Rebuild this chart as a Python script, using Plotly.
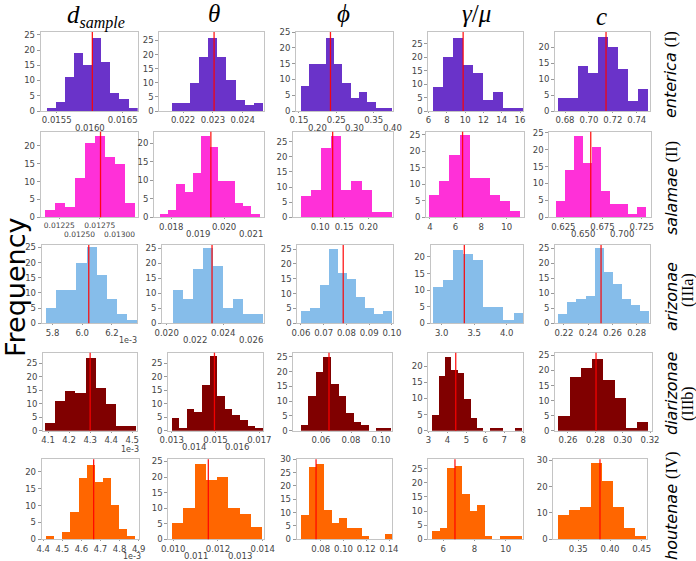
import plotly.graph_objects as go

W, H = 696, 561

# ---------------- data ----------------
# columns: d_sample, theta, phi, gamma/mu, c   (each histogram = 100 samples)
# d_sample of arizonae / diarizonae / houtenae is given in units of 1e-3
col_titles = ["<i>d</i><sub><span style=\"font-size:16px\"><i>sample</i></span></sub>",
              "<i>θ</i>", "<i>ϕ</i>", "<i>γ</i>/<i>μ</i>", "<i>c</i>"]
row_names = ["enterica", "salamae", "arizonae", "diarizonae", "houtenae"]
row_types = ["(I)", "(II)", "(IIIa)", "(IIIb)", "(IV)"]

enterica_lo = [0.015344, 0.02163, 0.1545, 6.47, 0.6744]
enterica_hi = [0.016722, 0.02469, 0.3995, 16.36, 0.7497]
enterica_mark = [0.01604, 0.02304, 0.2343, 9.78, 0.7143]
enterica_d = [1, 3, 11, 19, 15, 24, 16, 6, 4, 1]
enterica_theta = [3, 3, 10, 19, 26, 19, 11, 4, 2, 3]
enterica_phi = [8, 15, 15, 23, 15, 9, 4, 6, 3, 1, 1]
enterica_gm = [9, 20, 27, 17, 14, 4, 7, 1, 1]
enterica_c = [4, 4, 14, 12, 23, 20, 13, 3, 7]
enterica_xticks = [["0.0155", "0.0160", "0.0165"],
                   ["0.022", "0.023", "0.024"],
                   ["0.15", "0.20", "0.25", "0.30", "0.35", "0.40"],
                   ["6", "8", "10", "12", "14", "16"],
                   ["0.68", "0.70", "0.72", "0.74"]]

salamae_lo = [0.012073, 0.01756, 0.0598, 3.945, 0.6157]
salamae_hi = [0.013185, 0.02135, 0.249, 11.04, 0.7314]
salamae_mark = [0.01276, 0.01950, 0.126, 6.55, 0.660]
salamae_d = [2, 4, 3, 11, 21, 23, 17, 15, 4]
salamae_theta = [1, 2, 9, 7, 12, 22, 19, 10, 10, 4, 3, 1]
salamae_phi = [7, 9, 23, 27, 9, 12, 9, 2, 2]
salamae_gm = [7, 11, 19, 25, 12, 12, 7, 5, 2]
salamae_c = [5, 14, 24, 16, 21, 8, 4, 4, 1, 3]
salamae_xticks = [["0.01225", "0.01250", "0.01275", "0.01300"],
                  ["0.018", "0.019", "0.020", "0.021"],
                  ["0.10", "0.15", "0.20"],
                  ["4", "6", "8", "10"],
                  ["0.625", "0.650", "0.675", "0.700", "0.725"]]

arizonae_lo = [5.755, 0.02042, 0.0603, 2.862, 0.2153]
arizonae_hi = [6.367, 0.02681, 0.1003, 4.255, 0.2904]
arizonae_mark = [6.044, 0.02321, 0.0786, 3.348, 0.2506]
arizonae_d = [5, 11, 11, 20, 25, 16, 8, 3, 1]
arizonae_theta = [11, 8, 18, 25, 19, 5, 8, 3, 3]
arizonae_phi = [4, 5, 13, 25, 17, 15, 9, 5, 3, 4]
arizonae_gm = [11, 13, 22, 21, 19, 5, 5, 1, 3]
arizonae_c = [3, 7, 8, 9, 25, 17, 13, 8, 6, 4]
arizonae_xticks = [["5.8", "6.0", "6.2"],
                   ["0.020", "0.022", "0.024", "0.026"],
                   ["0.06", "0.07", "0.08", "0.09", "0.10"],
                   ["3.0", "3.5", "4.0"],
                   ["0.22", "0.24", "0.26", "0.28"]]

diarizonae_lo = [4.087, 0.013, 0.0467, 3.21, 0.2529]
diarizonae_hi = [4.517, 0.017155, 0.1071, 7.95, 0.3187]
diarizonae_mark = [4.30, 0.01495, 0.0653, 4.44, 0.2805]
diarizonae_d = [3, 11, 15, 14, 27, 16, 10, 2, 2]
diarizonae_theta = [5, 1, 8, 7, 17, 28, 13, 8, 6, 4, 2, 1]
diarizonae_phi = [2, 12, 20, 25, 16, 12, 6, 3, 2, 0, 1, 1]
diarizonae_gm = [5, 17, 23, 19, 18, 10, 4, 1, 0, 1, 1, 0, 0, 1]
diarizonae_c = [5, 18, 21, 24, 17, 11, 1, 3]
diarizonae_xticks = [["4.1", "4.2", "4.3", "4.4", "4.5"],
                     ["0.013", "0.014", "0.015", "0.016", "0.017"],
                     ["0.06", "0.08", "0.10"],
                     ["3", "4", "5", "6", "7", "8"],
                     ["0.26", "0.28", "0.30", "0.32"]]

houtenae_lo = [4.414, 0.00997, 0.0627, 5.295, 0.3185]
houtenae_hi = [4.879, 0.01398, 0.1424, 11.09, 0.4579]
houtenae_mark = [4.664, 0.01157, 0.0759, 6.75, 0.3842]
houtenae_d = [1, 0, 2, 8, 18, 22, 17, 18, 10, 3, 1]
houtenae_theta = [5, 10, 24, 19, 20, 10, 8, 4]
houtenae_phi = [9, 27, 28, 11, 6, 8, 4, 4, 1, 0, 0, 2]
houtenae_gm = [3, 4, 25, 26, 16, 10, 12, 1, 0, 1, 1, 1]
houtenae_c = [9, 11, 12, 29, 22, 12, 4, 1]
houtenae_xticks = [["4.4", "4.5", "4.6", "4.7", "4.8", "4.9"],
                   ["0.010", "0.011", "0.012", "0.013", "0.014"],
                   ["0.08", "0.10", "0.12", "0.14"],
                   ["6", "8", "10"],
                   ["0.35", "0.40", "0.45"]]

rows = [
    (enterica_lo, enterica_hi, enterica_mark,
     [enterica_d, enterica_theta, enterica_phi, enterica_gm, enterica_c], enterica_xticks),
    (salamae_lo, salamae_hi, salamae_mark,
     [salamae_d, salamae_theta, salamae_phi, salamae_gm, salamae_c], salamae_xticks),
    (arizonae_lo, arizonae_hi, arizonae_mark,
     [arizonae_d, arizonae_theta, arizonae_phi, arizonae_gm, arizonae_c], arizonae_xticks),
    (diarizonae_lo, diarizonae_hi, diarizonae_mark,
     [diarizonae_d, diarizonae_theta, diarizonae_phi, diarizonae_gm, diarizonae_c], diarizonae_xticks),
    (houtenae_lo, houtenae_hi, houtenae_mark,
     [houtenae_d, houtenae_theta, houtenae_phi, houtenae_gm, houtenae_c], houtenae_xticks),
]

# ---------------- style / layout ----------------
row_colors = ["#6a33c9", "#ff30d8", "#86bdea", "#800000", "#ff6600"]

col_left = [[40.7, 159.3, 296, 428.3, 555], [40.7, 154, 293, 426, 549.3],
            [41.7, 162, 297.3, 430.7, 555], [43, 168, 293.3, 428.3, 555],
            [41.7, 168.3, 296.7, 428.3, 553.3]]
col_right = [[137.7, 263.5, 392.5, 523.3, 650], [137.7, 263.5, 392.5, 524.3, 651],
             [137.3, 263.5, 393, 523.3, 650], [137.3, 263.3, 392, 523.3, 651.7],
             [139.3, 264, 392, 523.3, 647.3]]
row_top = [32, 131.7, 245, 352.7, 459.3]
row_bot = [111, 217.3, 323.3, 430.7, 539.3]

x_ranges = [
    [[0.015258, 0.016727], [0.0212, 0.0247], [0.142, 0.4005], [5.97, 16.36], [0.6716, 0.7511]],
    [[0.01202, 0.01322], [0.01735, 0.02149], [0.0438, 0.25], [3.69, 11.375], [0.6071, 0.7369]],
    [[5.727, 6.371], [0.01967, 0.02685], [0.0584, 0.1005], [2.831, 4.255], [0.2126, 0.2910]],
    [[4.076, 4.524], [0.01283, 0.01718], [0.0415, 0.1073], [2.99, 8.01], [0.2505, 0.3212]],
    [[4.392, 4.903], [0.00978, 0.01406], [0.0589, 0.1426], [5.04, 11.13], [0.3106, 0.4588]],
]
y_tops = [[25.9, 28, 25, 29.4, 24.7], [24, 23.1, 28.3, 26, 25.3],
          [25.8, 26.1, 26.4, 23.6, 26.1], [29, 29, 26.4, 24.2, 25.9],
          [23.7, 25.7, 30, 28.3, 30.4]]
staggered = {(0, 0), (0, 2), (1, 0), (1, 1), (1, 4), (2, 1), (3, 1), (4, 1)}
exp_labels = {2: (128, 340), 3: (130, 449), 4: (131.5, 556.5)}

TICKFONT = dict(family="DejaVu Sans", size=8.5, color="#444")
SMALLTICK = dict(family="DejaVu Sans", size=7.5, color="#444")
small_tick_panels = {(1, 0)}
EXPFONT = dict(family="DejaVu Sans", size=8, color="#444")
FRAME = "#c4c4c4"


def px_x(v):
    return v / W


def px_y(v):
    return 1 - v / H


fig = go.Figure()
layout = {}
shapes = []
annotations = []

for r, (lo, hi, mark, counts_list, xticks) in enumerate(rows):
    for c in range(5):
        n = r * 5 + c + 1
        counts = counts_list[c]
        nb = len(counts)
        w = (hi[c] - lo[c]) / nb
        centers = [lo[c] + w * (i + 0.5) for i in range(nb)]
        xa = "x" if n == 1 else f"x{n}"
        ya = "y" if n == 1 else f"y{n}"
        fig.add_trace(go.Bar(x=centers, y=counts, width=[w] * nb,
                             marker=dict(color=row_colors[r], line=dict(width=0)),
                             xaxis=xa, yaxis=ya, showlegend=False, hoverinfo="x+y"))
        labels = xticks[c]
        vals = [float(s) for s in labels]
        stag = (r, c) in staggered
        xfont = SMALLTICK if (r, c) in small_tick_panels else TICKFONT
        up_idx = [i for i in range(len(labels)) if not (stag and i % 2 == 1)]
        key_x = "xaxis" if n == 1 else f"xaxis{n}"
        key_y = "yaxis" if n == 1 else f"yaxis{n}"
        layout[key_x] = dict(
            domain=[px_x(col_left[r][c]), px_x(col_right[r][c])],
            anchor=ya, range=x_ranges[r][c],
            tickvals=[vals[i] for i in up_idx], ticktext=[labels[i] for i in up_idx],
            showgrid=False, zeroline=False, showline=True, mirror=True,
            linecolor=FRAME, linewidth=1, ticks="outside", ticklen=1,
            tickcolor="#999", tickfont=xfont, fixedrange=True, automargin=False)
        layout[key_y] = dict(
            domain=[px_y(row_bot[r]), px_y(row_top[r])],
            anchor=xa, range=[0, y_tops[r][c]], dtick=10 if (r, c) == (4, 4) else 5,
            showgrid=False, zeroline=False, showline=True, mirror=True,
            linecolor=FRAME, linewidth=1, ticks="outside", ticklen=3,
            tickcolor="#999", tickfont=TICKFONT, fixedrange=True, automargin=False)
        if stag:
            for i, s in enumerate(labels):
                if i % 2 == 1:
                    annotations.append(dict(
                        x=vals[i], xref=xa, y=px_y(row_bot[r]), yref="paper",
                        text=s, showarrow=False, yanchor="middle", xanchor="center",
                        yshift=-17 if xfont is SMALLTICK else -16.5, font=xfont))
        shapes.append(dict(type="line", xref=xa, yref=f"{ya} domain",
                           x0=mark[c], x1=mark[c], y0=0, y1=1,
                           line=dict(color="rgba(255,0,0,0.9)", width=1.3)))

# exponent labels
for r, (ex, ey) in exp_labels.items():
    annotations.append(dict(x=px_x(ex), y=px_y(ey), xref="paper", yref="paper",
                            text="1e-3", showarrow=False, font=EXPFONT,
                            xanchor="center", yanchor="middle"))

# column titles
title_x = [96, 214, 343, 477, 601]
title_y = [16, 14, 14, 14, 16]
for c in range(5):
    annotations.append(dict(x=px_x(title_x[c]), y=px_y(title_y[c]), xref="paper", yref="paper",
                            text=col_titles[c], showarrow=False,
                            font=dict(family="Liberation Serif", size=25, color="black"),
                            xanchor="center", yanchor="middle"))

# row labels (rotated)
SERIF = "font-family:'Liberation Serif'"
ROWFONT = dict(family="DejaVu Sans", size=16, color="black")
row_label_pos = [(671, 75), (671, 188), (671, 297), (671, 393), (671, 506)]
type_pos = {2: (688, 290), 3: (688, 404)}
for r in range(5):
    lx, ly = row_label_pos[r]
    if r in type_pos:
        txt = f"<i>{row_names[r]}</i>"
        tx, ty = type_pos[r]
        annotations.append(dict(x=px_x(tx), y=px_y(ty), xref="paper", yref="paper",
                                text=f"<span style=\"{SERIF}\">{row_types[r]}</span>",
                                showarrow=False, textangle=-90, font=ROWFONT,
                                xanchor="center", yanchor="middle"))
    else:
        txt = f"<i>{row_names[r]}</i> <span style=\"{SERIF}\">{row_types[r]}</span>"
    annotations.append(dict(x=px_x(lx), y=px_y(ly), xref="paper", yref="paper",
                            text=txt, showarrow=False, textangle=-90, font=ROWFONT,
                            xanchor="center", yanchor="middle", align="center"))

annotations.append(dict(x=px_x(15), y=px_y(287), xref="paper", yref="paper",
                        text="Frequency", showarrow=False, textangle=-90,
                        font=dict(family="DejaVu Sans", size=27, color="black"),
                        xanchor="center", yanchor="middle"))

fig.update_layout(
    width=W, height=H, margin=dict(l=0, r=0, t=0, b=0, autoexpand=False),
    paper_bgcolor="white", plot_bgcolor="white",
    barmode="overlay", bargap=0, showlegend=False,
    shapes=shapes, annotations=annotations, **layout)

fig.write_html("out.html", config={"displayModeBar": False},
               post_script="document.body.style.margin='0';document.body.style.padding='0';")
